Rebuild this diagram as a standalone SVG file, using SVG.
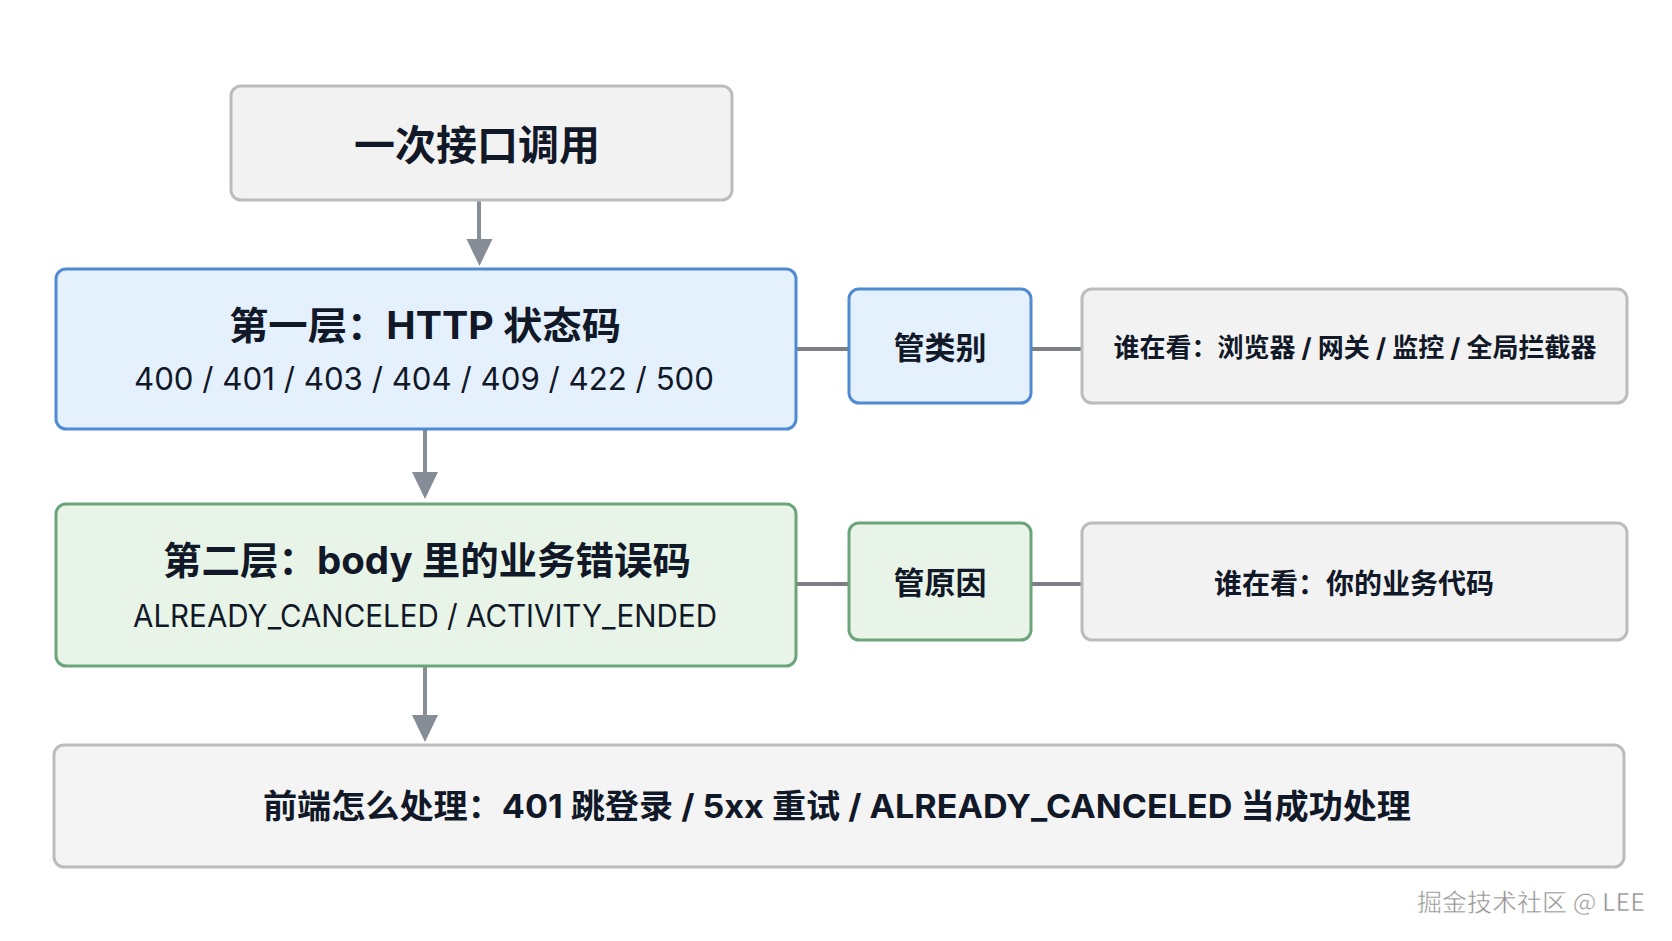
<svg xmlns="http://www.w3.org/2000/svg" width="1672" height="941" viewBox="0 0 1672 941">
  <style>
    .t{font-family:"Inter","Noto Sans CJK SC",sans-serif;fill:#111827;text-anchor:middle}
    .b{font-weight:700}
    .gray{fill:#f2f2f2;stroke:#bcbcbc;stroke-width:3}
    .blue{fill:#e5f0fd;stroke:#4f8ad2;stroke-width:3}
    .green{fill:#e8f4e7;stroke:#6ca57b;stroke-width:3}
    .arrow{stroke:#878d97;stroke-width:4;fill:none}
    .head{fill:#878d97}
    .link{stroke:#7c7f85;stroke-width:4;fill:none}
  </style>
  <rect width="1672" height="941" fill="#ffffff"/>

  <g id="connectors">
    <line class="arrow" x1="479" y1="201" x2="479" y2="240"/>
    <path class="head" d="M466.5,239 L492.5,239 L479.5,266 Z"/>
    <line class="arrow" x1="425" y1="430" x2="425" y2="474"/>
    <path class="head" d="M412,472 L438,472 L425,499 Z"/>
    <line class="arrow" x1="425" y1="667" x2="425" y2="717"/>
    <path class="head" d="M412,715 L438,715 L425,742 Z"/>
    <line class="link" x1="797" y1="349" x2="849" y2="349"/>
    <line class="link" x1="1031" y1="349" x2="1082" y2="349"/>
    <line class="link" x1="797" y1="584" x2="849" y2="584"/>
    <line class="link" x1="1031" y1="584" x2="1082" y2="584"/>
  </g>

  <g id="node-call">
    <rect class="gray" x="231" y="86" width="501" height="114" rx="10"/>
    <text class="t b" x="477" y="160" font-size="41">一次接口调用</text>
  </g>

  <g id="node-layer1">
    <rect class="blue" x="56" y="269" width="740" height="160" rx="10"/>
    <text class="t b" x="425" y="339" font-size="38" textLength="392" lengthAdjust="spacingAndGlyphs">第一层：HTTP 状态码</text>
    <text class="t" x="424" y="390" font-size="31" textLength="580" lengthAdjust="spacingAndGlyphs">400 / 401 / 403 / 404 / 409 / 422 / 500</text>
  </g>

  <g id="node-category">
    <rect class="blue" x="849" y="289" width="182" height="114" rx="10"/>
    <text class="t b" x="940" y="359" font-size="31">管类别</text>
  </g>

  <g id="node-who1">
    <rect class="gray" x="1082" y="289" width="545" height="114" rx="10"/>
    <text class="t b" x="1355" y="357" font-size="26" textLength="483" lengthAdjust="spacingAndGlyphs">谁在看：浏览器 / 网关 / 监控 / 全局拦截器</text>
  </g>

  <g id="node-layer2">
    <rect class="green" x="56" y="504" width="740" height="162" rx="10"/>
    <text class="t b" x="427" y="574" font-size="38" textLength="528" lengthAdjust="spacingAndGlyphs">第二层：body 里的业务错误码</text>
    <text class="t" x="425" y="627" font-size="31" textLength="584" lengthAdjust="spacingAndGlyphs">ALREADY_CANCELED / ACTIVITY_ENDED</text>
  </g>

  <g id="node-reason">
    <rect class="green" x="849" y="523" width="182" height="117" rx="10"/>
    <text class="t b" x="940" y="594" font-size="31">管原因</text>
  </g>

  <g id="node-who2">
    <rect class="gray" x="1082" y="523" width="545" height="117" rx="10"/>
    <text class="t b" x="1354" y="594" font-size="28">谁在看：你的业务代码</text>
  </g>

  <g id="node-frontend">
    <rect class="gray" x="54" y="745" width="1570" height="122" rx="10" style="fill:#f4f4f4"/>
    <text class="t b" x="837" y="818" font-size="33" textLength="1148" lengthAdjust="spacingAndGlyphs">前端怎么处理：401 跳登录 / 5xx 重试 / ALREADY_CANCELED 当成功处理</text>
  </g>

  <text x="1417" y="911" font-family="'Noto Sans CJK SC','Noto Sans',sans-serif" font-size="24" fill="#8e8e8e" stroke="#ffffff" stroke-width="0.5" textLength="228" lengthAdjust="spacingAndGlyphs">掘金技术社区 @ LEE</text>
</svg>
